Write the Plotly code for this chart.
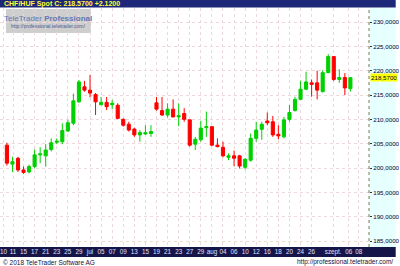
import plotly.graph_objects as go

# ---- data ----
opens = [204.7, 200.8, 202.0, 199.6, 199.2, 200.3, 202.7, 202.5, 203.8, 205.3,
         205.4, 207.6, 209.2, 213.6, 216.7, 216.0, 215.1, 213.0, 213.5, 213.0,
         212.9, 210.0, 209.0, 208.0, 206.8, 207.0, 207.1, 213.4, 211.8, 210.9,
         212.1, 210.5, 211.2, 209.9, 204.9, 205.8, 208.3, 208.5, 204.7, 204.25,
         202.2, 202.5, 202.5, 200.15, 201.6, 206.1, 207.95, 209.66, 209.5, 206.93,
         206.4, 210.0, 211.8, 214.1, 216.2, 217.5, 217.5, 215.7, 219.6, 222.9,
         218.2, 218.6, 216.3]
highs = [205.2, 202.3, 202.3, 200.3, 200.7, 203.8, 204.3, 204.9, 206.1, 206.1,
         209.2, 209.9, 215.3, 218.1, 217.9, 219.1, 215.4, 214.6, 214.6, 214.0,
         213.3, 210.2, 209.5, 208.3, 207.8, 208.8, 208.8, 214.6, 214.6, 213.3,
         214.1, 213.3, 212.3, 209.9, 206.4, 209.7, 211.6, 208.6, 206.1, 205.4,
         203.0, 203.6, 202.7, 202.0, 207.1, 209.5, 209.5, 211.4, 210.7, 208.8,
         210.5, 212.95, 214.65, 217.9, 219.8, 218.2, 220.0, 220.1, 223.4, 223.0,
         220.3, 219.5, 218.64]
lows = [200.5, 199.2, 199.2, 198.8, 198.9, 199.9, 201.0, 200.3, 203.4, 204.9,
        204.9, 207.4, 208.8, 213.4, 215.7, 214.5, 210.9, 212.9, 211.9, 212.1,
        210.0, 208.5, 207.5, 206.4, 205.4, 206.8, 206.4, 211.8, 210.7, 210.4,
        210.4, 208.6, 209.5, 204.4, 203.7, 205.4, 206.4, 204.5, 204.25, 202.2,
        201.6, 200.4, 199.9, 199.7, 201.3, 205.4, 205.8, 208.8, 206.4, 205.9,
        206.1, 209.5, 211.6, 214.0, 216.0, 214.65, 214.1, 215.5, 219.5, 217.9,
        217.5, 215.0, 215.7]
closes = [201.0, 201.3, 199.6, 199.1, 200.3, 202.7, 202.9, 203.7, 205.2, 205.5,
          207.7, 209.3, 213.8, 217.7, 216.0, 215.4, 213.6, 213.5, 212.6, 213.3,
          210.2, 208.8, 207.8, 206.8, 207.3, 207.25, 207.5, 212.1, 210.9, 212.1,
          210.5, 210.75, 210.0, 204.7, 205.9, 208.2, 208.5, 204.7, 204.4, 202.5,
          202.5, 202.0, 200.4, 201.8, 206.1, 207.8, 209.0, 209.3, 206.8, 206.6,
          209.9, 211.4, 214.1, 216.2, 217.7, 217.2, 216.0, 219.6, 222.9, 218.2,
          218.6, 216.45, 218.57]
idx = list(range(len(opens)))

x_tick_pos = [-0.6, 1.1, 3, 5, 7, 9, 11, 13, 15, 17, 19, 21, 23, 25, 27, 29, 31, 33,
              35, 37, 39, 41, 43, 45, 47, 49, 51, 53, 55, 58.9, 61.7, 63.5]
x_tick_text = ["10", "11", "15", "17", "21", "23", "25", "29", "jul", "05", "07", "09",
               "13", "15", "19", "21", "23", "27", "29", "aug", "04", "06", "10", "12",
               "16", "18", "20", "24", "26", "szept.", "06", "08"]
y_tick_vals = [185, 190, 195, 200, 205, 210, 215, 220, 225, 230]
y_tick_text = ["185,0000", "190,0000", "195,0000", "200,0000", "205,0000",
               "210,0000", "215,0000", "220,0000", "225,0000", "230,0000"]
last_price = 218.57
last_label = "218,5700"
header_text = "CHF/HUF Spot C: 218.5700 +2.1200"

# ---- figure ----
W, H = 400, 266
ML, MR, MT, MB = 0, 27, 8, 19
PW, PH = W - ML - MR, H - MT - MB

def px_x(p):  # pixel x -> paper
    return (p - ML) / PW

def px_y(p):  # pixel y (from top) -> paper
    return (H - MB - p) / PH

fig = go.Figure()
fig.add_trace(go.Candlestick(
    x=idx, open=opens, high=highs, low=lows, close=closes,
    increasing=dict(line=dict(color="#00d000", width=1), fillcolor="#00d000"),
    decreasing=dict(line=dict(color="#ff0000", width=1), fillcolor="#ff0000"),
    whiskerwidth=0, showlegend=False, hoverinfo="skip",
))

shapes = [
    dict(type="rect", xref="paper", yref="paper", x0=1, x1=px_x(W), y0=0, y1=1,
         fillcolor="#e6ffff", line=dict(width=0), layer="below"),
    dict(type="line", xref="paper", yref="paper", x0=1, x1=1, y0=0, y1=1,
         line=dict(color="#7a7a50", width=1, dash="dot")),
    dict(type="rect", xref="paper", yref="paper", x0=px_x(0), x1=px_x(W),
         y0=px_y(7.5), y1=px_y(0), fillcolor="#1e2878", line=dict(width=0)),
    dict(type="rect", xref="paper", yref="paper", x0=px_x(0), x1=px_x(W),
         y0=px_y(257), y1=px_y(247), fillcolor="#15154a", line=dict(width=0),
         layer="below"),
    dict(type="rect", xref="paper", yref="paper", x0=px_x(6), x1=px_x(92),
         y0=px_y(33), y1=px_y(9), fillcolor="rgba(190,190,190,0.75)",
         line=dict(width=0), layer="below"),
]

annotations = [
    dict(xref="paper", yref="paper", x=px_x(2), y=px_y(3.8), xanchor="left",
         yanchor="middle", text="<b>" + header_text + "</b>", showarrow=False,
         font=dict(family="Liberation Sans", size=7, color="#ffff33")),
    dict(xref="paper", yref="y", x=1, y=last_price, xanchor="left", yanchor="middle",
         xshift=1, text=last_label, showarrow=False, bgcolor="#ffff00", borderpad=0,
         font=dict(family="Liberation Sans", size=6.2, color="#000033")),
    dict(xref="paper", yref="paper", x=px_x(49), y=px_y(18), xanchor="center",
         yanchor="middle", text="TeleTrader <b>Professional</b>", showarrow=False,
         font=dict(family="Liberation Sans", size=8, color="#6478b4")),
    dict(xref="paper", yref="paper", x=px_x(49), y=px_y(26), xanchor="center",
         yanchor="middle", text="http://professional.teletrader.com/", showarrow=False,
         font=dict(family="Liberation Sans", size=5, color="#4a5a90")),
    dict(xref="paper", yref="paper", x=px_x(1), y=px_y(262), xanchor="left",
         yanchor="middle", text="© 2018 TeleTrader Software AG", showarrow=False,
         font=dict(family="Liberation Sans", size=6.5, color="#101040")),
    dict(xref="paper", yref="paper", x=px_x(399), y=px_y(262), xanchor="right",
         yanchor="middle", text="http://professional.teletrader.com/", showarrow=False,
         font=dict(family="Liberation Sans", size=6.5, color="#101040")),
]

fig.update_layout(
    width=W, height=H,
    margin=dict(l=ML, r=MR, t=MT, b=MB, pad=0),
    paper_bgcolor="#ffffff", plot_bgcolor="#ffffff",
    shapes=shapes, annotations=annotations,
    boxgap=0.2,
    xaxis=dict(
        range=[-1.25, 65.36], rangeslider=dict(visible=False),
        tickmode="array", tickvals=x_tick_pos, ticktext=x_tick_text,
        tickangle=0,
        showgrid=True, gridcolor="#eed8dc", griddash="dot", gridwidth=1,
        ticks="", tickfont=dict(family="Liberation Sans", size=6.3, color="#e0e0ff"),
        showline=False, zeroline=False, fixedrange=True,
    ),
    yaxis=dict(
        range=[183.77, 232.88], side="right",
        tickmode="array", tickvals=y_tick_vals, ticktext=y_tick_text,
        showgrid=True, gridcolor="#eed8dc", griddash="dot", gridwidth=1,
        ticks="outside", ticklen=2, tickcolor="#333333",
        tickfont=dict(family="Liberation Sans", size=6.2, color="#000033"),
        showline=False, zeroline=False, fixedrange=True,
    ),
)

fig.write_html("out.html")
